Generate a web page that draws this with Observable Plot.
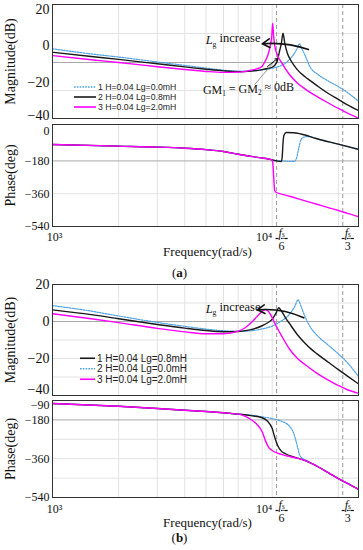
<!DOCTYPE html>
<html><head><meta charset="utf-8">
<script src="https://cdn.jsdelivr.net/npm/d3@7"></script>
<script src="https://cdn.jsdelivr.net/npm/@observablehq/plot@0.6"></script>
<style>
body{margin:0;background:#fff}
#root{position:relative;width:363px;height:550px;overflow:hidden;background:#fff}
.pnl{position:absolute;left:0}
</style>
</head><body><div id="root"></div>
<script>
// ---------- data (frequency rad/s, value) ----------
const FS6 = 10472, FS3 = 20944;
const xGrid = [2000,3000,4000,5000,6000,7000,8000,9000,10000,20000];
const fracLabels = [{f:FS6, d:"6"},{f:FS3, d:"3"}];
const decadeLabels = [{f:1000, t:"10³"},{f:10000, t:"10⁴"}];

// (a) magnitude, dB
const magA_lg0 = [[1000,-1.8],[1500,-4.6],[2000,-6.3],[3000,-9.0],[4000,-10.9],[5000,-12.4],[6000,-13.5],[7000,-14.0],[8000,-13.9],[9000,-13.4],[10000,-12.4],[11000,-10.9],[12000,-7.6],[12500,-5.0],[13000,-1.5],[13300,1.0],[13600,-1.5],[14000,-4.5],[15000,-12.5],[16000,-15.5],[18000,-19.5],[20000,-22.5],[22000,-25.8],[24700,-30.5]];
const magA_lg08 = [[1000,-3.7],[1500,-6.0],[2000,-7.6],[3000,-10.0],[4000,-11.7],[5000,-13.0],[6000,-13.9],[7000,-14.3],[8000,-14.0],[9000,-13.2],[9500,-12.6],[10000,-11.9],[10500,-9.1],[10800,-3.0],[11000,1.0],[11200,6.8],[11400,1.5],[11700,-4.0],[12000,-7.0],[12500,-10.5],[13000,-13.2],[14000,-16.8],[15000,-19.5],[16000,-22.0],[18000,-26.3],[20000,-29.5],[22000,-32.5],[24700,-35.6]];
const magA_lg2 = [[1000,-5.5],[1500,-7.8],[2000,-9.3],[3000,-11.6],[4000,-13.1],[5000,-14.2],[6000,-14.7],[7000,-14.6],[8000,-13.5],[8500,-12.8],[9000,-11.3],[9300,-8.5],[9600,-4.5],[9800,0.0],[9950,5.0],[10050,12.2],[10150,5.0],[10300,-1.0],[10500,-4.5],[11000,-9.1],[12000,-16.0],[13000,-20.5],[14000,-23.5],[15000,-26.0],[16000,-28.0],[18000,-31.5],[20000,-34.5],[22000,-37.0],[24700,-39.8]];
const magA_ticks = [20,0,-20,-40];
const magA_grid = [6.6,-24.6];
const magA_ref = [-9.3];

// (a) phase, deg
const phA_lg0 = [[1000,-90],[2000,-99],[3000,-104],[4000,-110],[5000,-118],[6000,-128],[7000,-143],[8000,-155],[9000,-164],[9500,-168],[10000,-175],[11000,-180],[12000,-182],[12600,-182],[12900,-165],[13200,-110],[13500,-65],[13900,-50],[14500,-46],[15500,-52],[16000,-58],[20000,-88],[24700,-117]];
const phA_lg08 = [[1000,-90],[2000,-99],[3000,-104],[4000,-110],[5000,-118],[6000,-128],[7000,-143],[8000,-155],[9000,-164],[9500,-168],[10000,-175],[10500,-180],[11000,-183],[11100,-160],[11200,-80],[11300,-40],[11600,-24],[12500,-25],[13500,-32],[16000,-58],[20000,-88],[24700,-117]];
const phA_lg2 = [[1000,-90],[2000,-99],[3000,-104],[4000,-110],[5000,-118],[6000,-128],[7000,-143],[8000,-155],[9000,-164],[9500,-168],[10000,-175],[10050,-185],[10150,-260],[10250,-340],[10400,-352],[11000,-362],[12000,-374],[14000,-398],[16000,-418],[18000,-436],[20000,-452],[22000,-468],[24700,-486]];
const phA_ticks = [0,-180,-360,-540];
const phA_grid = [-360];
const phA_ref = [-180];

// (b) magnitude, dB
const magB_lg0 = [[1000,8.6],[1500,5.6],[2000,3.0],[3000,-0.5],[4000,-2.6],[5000,-4.1],[6000,-5.0],[7000,-5.3],[8000,-5.0],[9000,-4.0],[10000,-2.5],[11000,0.3],[12000,4.0],[12700,8.5],[13100,11.7],[13500,8.5],[14000,3.5],[15000,-3.5],[16000,-7.5],[18000,-12.8],[20000,-17.5],[22000,-22.3],[24700,-29.7]];
const magB_lg08 = [[1000,6.3],[1500,3.7],[2000,1.5],[3000,-1.6],[4000,-3.6],[5000,-4.9],[6000,-5.5],[7000,-5.4],[8000,-4.4],[9000,-2.3],[9500,-0.8],[10000,1.2],[10400,4.5],[10700,7.4],[11000,5.8],[11500,2.0],[12000,-1.2],[13000,-7.0],[14000,-11.3],[15000,-14.8],[16000,-17.5],[18000,-22.0],[20000,-26.0],[22000,-29.5],[24700,-33.7]];
const magB_lg2 = [[1000,4.2],[1500,1.5],[2000,-0.6],[3000,-3.7],[4000,-5.6],[5000,-6.6],[6000,-6.6],[7000,-5.2],[7500,-3.5],[8000,-0.8],[8500,2.5],[9000,5.5],[9300,6.5],[9600,5.5],[10000,2.0],[10300,-1.2],[11000,-7.5],[12000,-15.0],[13000,-19.8],[14000,-23.0],[16000,-28.0],[18000,-31.7],[20000,-34.6],[22000,-36.9],[24700,-38.8]];
const magB_ticks = [20,0,-20,-40];
const magB_grid = [10,-10,-20,-30];
const magB_ref = [0];

// (b) phase, deg
const phB_lg0 = [[1000,-104],[2000,-117],[3000,-127],[4000,-135],[5000,-141],[6000,-147],[7000,-153],[8000,-158],[9000,-166],[10000,-174],[11000,-186],[12000,-210],[12500,-240],[13000,-300],[13300,-340],[13700,-358],[14200,-366],[15000,-380],[16000,-395],[18000,-425],[20000,-452],[22000,-475],[24700,-502]];
const phB_lg08 = [[1000,-104],[2000,-117],[3000,-127],[4000,-135],[5000,-141],[6000,-147],[7000,-153],[8000,-160],[9000,-170],[9500,-185],[10000,-220],[10300,-265],[10600,-300],[11000,-325],[11500,-337],[12500,-352],[13500,-362],[15000,-380],[16000,-395],[18000,-425],[20000,-452],[22000,-475],[24700,-502]];
const phB_lg2 = [[1000,-104],[2000,-117],[3000,-127],[4000,-135],[5000,-141],[6000,-147],[7000,-153],[7500,-162],[8000,-178],[8500,-200],[9000,-235],[9300,-275],[9600,-305],[10000,-322],[11000,-340],[12000,-350],[13500,-362],[15000,-380],[16000,-395],[18000,-425],[20000,-452],[22000,-475],[24700,-502]];
const phB_ticks = [-90,-180,-360,-540];
const phB_grid = [-270,-360,-450];
const phB_ref = [-180];

// annotations (frequency, dB)
const annotA = {text:"Lg increase", tf:4977, tv:3.1, x1:14620, y1:-2.2, x2:9005, y2:0.95};
const gmA = {text:"GM1 = GM2 ≈ 0dB", tf:7800, tv:-24.6, lx1:8310, ly1:-21.4, lx2:10140, ly2:-9.3, ax1:9520, ay1:-11.5, ax2:10570, ay2:-7.1};
const annotB = {text:"Lg increase", tf:4977, tv:6.9, x1:13920, y1:2.0, x2:8550, y2:6.3};

const legendA = ["1 H=0.04 Lg=0.0mH","2 H=0.04 Lg=0.8mH","3 H=0.04 Lg=2.0mH"];
const legendB = ["1 H=0.04 Lg=0.8mH","2 H=0.04 Lg=0.0mH","3 H=0.04 Lg=2.0mH"];

// ---------- styles ----------
const serif = '"Liberation Serif","Times New Roman",serif';
const sans = '"Liberation Sans",Arial,sans-serif';
const BLUE = {color:"#4fa3e3", w:1.2, dash:"1.6,1.2"};
const BLACK = {color:"#1a1a1a", w:1.4, dash:null};
const MAG = {color:"#ff00ff", w:1.4, dash:null};

const FS = '<tspan text-decoration="underline">&#160;<tspan font-style="italic">f</tspan><tspan font-size="0.6em">s</tspan>&#160;</tspan>';
const RICH = {
  "Lg increase": '<tspan font-style="italic">L</tspan><tspan font-size="0.62em" dy="0.35em">g</tspan><tspan dy="-0.35em"> increase</tspan>',
  "GM1 = GM2 ≈ 0dB": 'GM<tspan font-size="0.6em" dy="0.3em">1</tspan><tspan dy="-0.3em"> = GM</tspan><tspan font-size="0.6em" dy="0.3em">2</tspan><tspan dy="-0.3em"> ≈ 0dB</tspan>',
  "fs/6": '<tspan x="0" y="0.45em">' + FS + '</tspan><tspan x="0" y="1.55em">6</tspan>',
  "fs/3": '<tspan x="0" y="0.45em">' + FS + '</tspan><tspan x="0" y="1.55em">3</tspan>',
  "(a)": '(<tspan font-weight="bold">a</tspan>)',
  "(b)": '(<tspan font-weight="bold">b</tspan>)'
};

const root = document.getElementById("root");

function rows(pts){ return pts.map(([f,v]) => ({f, v})); }
function lineMarks(list){
  return list.map(([pts, st]) => Plot.line(rows(pts), {x:"f", y:"v", stroke:st.color, strokeWidth:st.w, strokeDasharray:st.dash, curve:"monotone-x", clip:true}));
}

function panel(cfg){
  const axisOpts = {tickSize:0, tickPadding:3, fontSize:cfg.tickFont, label:null, fontFamily:serif};
  const svg = Plot.plot({
    width:363, height:cfg.height,
    marginLeft:52, marginRight:5, marginTop:cfg.mt, marginBottom:cfg.mb,
    style:{fontFamily:serif, background:"transparent", overflow:"visible", color:"#111"},
    x:{type:"log", domain:[1000,24700], axis:null},
    y:{domain:cfg.yDomain, label:null},
    marks:[
      Plot.ruleX(xGrid, {stroke:"#e2e2e2", strokeWidth:1}),
      Plot.ruleY(cfg.grid, {stroke:"#e2e2e2", strokeWidth:1}),
      Plot.ruleY(cfg.ref, {stroke:"#a9a9a9", strokeWidth:1}),
      Plot.ruleX([FS6, FS3], {stroke:"#9a9a9a", strokeWidth:1, strokeDasharray:"4,3"}),
      ...lineMarks(cfg.series),
      ...(cfg.extra || []),
      Plot.frame({stroke:"#333", strokeWidth:1}),
      Plot.axisY(cfg.ticks.filter(t => t !== cfg.edge), axisOpts),
      Plot.axisY([cfg.edge], {...axisOpts, dy:cfg.edgeDy}),
      Plot.text([cfg.ylabel], {text:d=>d, frameAnchor:"left", textAnchor:"middle", lineAnchor:"middle", dx:-42, rotate:-90, fontSize:14})
    ]
  });
  d3.select(svg).selectAll("text").each(function(){
    const t = this.textContent;
    if (RICH[t]) this.innerHTML = RICH[t];
  });
  const div = document.createElement("div");
  div.className = "pnl"; div.style.top = cfg.top + "px";
  div.appendChild(svg); root.appendChild(div);
}

function xLabels(caption, o){
  const base = {frameAnchor:"bottom", lineAnchor:"middle", fontSize:12};
  return [
    Plot.text(decadeLabels.slice(0,1), {...base, x:"f", text:"t", dy:o.dec, dx:2}),
    Plot.text(decadeLabels.slice(1), {...base, x:"f", text:"t", textAnchor:"end", dy:o.dec, dx:0}),
    Plot.text(fracLabels, {...base, x:"f", text:d=>"fs/" + d.d, lineAnchor:"top", dy:o.frac, dx:5}),
    Plot.text(["Frequency(rad/s)"], {...base, text:d=>d, textAnchor:"middle", dy:o.freq, dx:2, fontSize:13}),
    Plot.text([caption], {...base, text:d=>d, textAnchor:"middle", dy:o.cap, dx:-26, fontSize:13})
  ];
}

function legend(labels, styles, top, left, lineLen, fs, gap){
  const s = d3.create("svg").attr("width", 160).attr("height", gap*3+4)
    .style("position","absolute").style("left", left+"px").style("top", top+"px");
  labels.forEach((lab,i) => {
    const y = 2 + gap*i + gap/2;
    const st = styles[i];
    s.append("line").attr("x1",0).attr("x2",lineLen).attr("y1",y).attr("y2",y)
      .attr("stroke",st.color).attr("stroke-width",st.w+0.2).attr("stroke-dasharray", st.dash);
    s.append("text").attr("x", lineLen+2).attr("y", y).attr("dy","0.35em")
      .attr("font-family", sans).attr("font-size", fs).attr("fill","#222").text(lab);
  });
  root.appendChild(s.node());
}

// (a) magnitude
panel({top:0, height:122, mt:4, mb:4, yDomain:[-40,22.5], ticks:magA_ticks, edge:-40, edgeDy:-3, grid:magA_grid, ref:magA_ref, tickFont:14, ylabel:"Magnitude(dB)",
  series:[[magA_lg0,BLUE],[magA_lg08,BLACK],[magA_lg2,MAG]],
  extra:[
    Plot.text([annotA], {x:"tf", y:"tv", text:"text", textAnchor:"start", lineAnchor:"middle", fontSize:12.5}),
    Plot.arrow([annotA], {x1:"x1", y1:"y1", x2:"x2", y2:"y2", bend:-12, stroke:"#111", strokeWidth:1.6, headLength:8}),
    Plot.link([gmA], {x1:"lx1", y1:"ly1", x2:"lx2", y2:"ly2", stroke:"#777", strokeWidth:0.8}),
    Plot.arrow([gmA], {x1:"ax1", y1:"ay1", x2:"ax2", y2:"ay2", stroke:"#111", strokeWidth:1, headLength:4}),
    Plot.text([gmA], {x:"tf", y:"tv", text:"text", lineAnchor:"middle", fontSize:12})
  ]});
// (a) phase
panel({top:118, height:162, mt:6, mb:54, yDomain:[-540,20], ticks:phA_ticks, edge:0, edgeDy:3, grid:phA_grid, ref:phA_ref, tickFont:12, ylabel:"Phase(deg)",
  series:[[phA_lg0,BLUE],[phA_lg08,BLACK],[phA_lg2,MAG]],
  extra:xLabels("(a)", {dec:11, frac:5, freq:25.5, cap:46})});
// (b) magnitude
panel({top:280, height:120, mt:4, mb:5, yDomain:[-40,20], ticks:magB_ticks, edge:-40, edgeDy:-6, grid:magB_grid, ref:magB_ref, tickFont:14, ylabel:"Magnitude(dB)",
  series:[[magB_lg0,BLUE],[magB_lg08,BLACK],[magB_lg2,MAG]],
  extra:[
    Plot.text([annotB], {x:"tf", y:"tv", text:"text", textAnchor:"start", lineAnchor:"middle", fontSize:12.5}),
    Plot.arrow([annotB], {x1:"x1", y1:"y1", x2:"x2", y2:"y2", bend:-15, stroke:"#111", strokeWidth:1.6, headLength:8})
  ]});
// (b) phase
panel({top:394, height:156, mt:6, mb:53, yDomain:[-540,-90], ticks:phB_ticks, edge:-90, edgeDy:5, grid:phB_grid, ref:phB_ref, tickFont:12, ylabel:"Phase(deg)",
  series:[[phB_lg0,BLUE],[phB_lg08,BLACK],[phB_lg2,MAG]],
  extra:xLabels("(b)", {dec:12, frac:6, freq:25, cap:40})});

legend(legendA, [BLUE,BLACK,MAG], 80, 74, 22, 8.7, 10);
legend(legendB, [BLACK,BLUE,MAG], 351, 80, 15, 10, 10.5);
</script>
</body></html>
